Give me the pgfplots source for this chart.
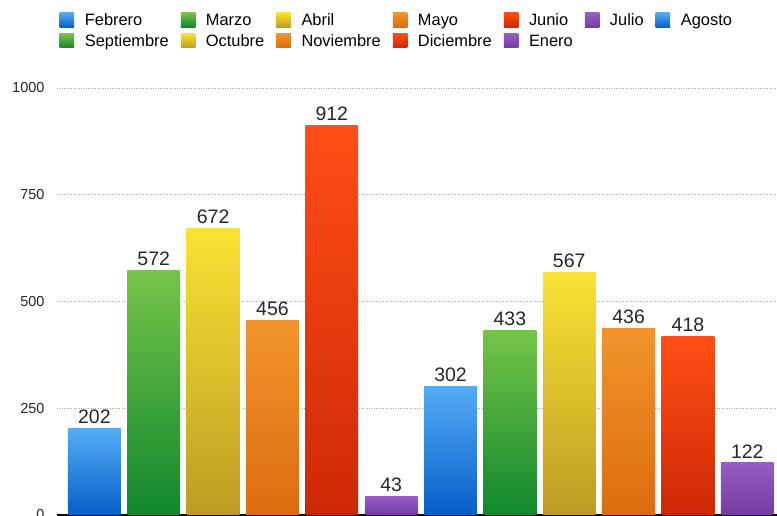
\documentclass[border=0pt]{standalone}
\usepackage{pgfplots}
\pgfplotsset{compat=1.18}
\usepackage{fontspec}
\setmainfont{Liberation Sans}
\definecolor{blueT}{RGB}{85,172,246}
\definecolor{blueB}{RGB}{5,95,200}
\definecolor{greenT}{RGB}{118,196,72}
\definecolor{greenB}{RGB}{15,135,45}
\definecolor{yellowT}{RGB}{250,226,52}
\definecolor{yellowB}{RGB}{190,155,35}
\definecolor{orangeT}{RGB}{242,148,45}
\definecolor{orangeB}{RGB}{220,108,15}
\definecolor{redT}{RGB}{255,78,22}
\definecolor{redB}{RGB}{205,40,5}
\definecolor{purpleT}{RGB}{152,92,196}
\definecolor{purpleB}{RGB}{115,60,160}
\newcommand{\mybar}[4]{\addplot[ybar, bar shift=0pt, draw=none, top color=#1, bottom color=#2] coordinates {(#3,#4)};}
\begin{document}
\begin{tikzpicture}
\begin{axis}[
  at={(57pt,1pt)}, anchor=south west,
  scale only axis, width=720pt, height=427pt,
  xmin=-0.63, xmax=11.5, ymin=0, ymax=1000,
  bar width=0.89,
  ytick={0,250,500,750,1000},
  xtick=\empty,
  axis x line*=bottom, axis y line*=left,
  x axis line style={black, line width=1.8pt, -},
  y axis line style={draw=none},
  ymajorgrids, grid style={gray!70, dotted, line width=0.8pt},
  major tick length=0pt,
  yticklabel style={font=\fontsize{14.5}{14.5}\selectfont, text=black!85, xshift=-9pt},
  /pgf/number format/assume math mode=true,
  /pgf/number format/1000 sep={},
  clip=false,
  nodes near coords,
  every node near coord/.append style={font=\fontsize{19.5}{19.5}\selectfont, text=black!85, inner sep=2pt, yshift=2.5pt},
  legend columns=7,
  legend image code/.code={\path[#1] (0pt,-5.5pt) rectangle (14.5pt,9pt);},
  legend style={at={(axis description cs:0,1)}, anchor=north west, xshift=2.5pt, yshift=76pt, draw=none, fill=none,
    font=\fontsize{16.4}{16.4}\selectfont, row sep=1.5pt, inner sep=0pt,
    nodes={text height=11.8pt, text depth=3.4pt},
    /tikz/every odd column/.append style={column sep=8.7pt},
    /tikz/every even column/.append style={column sep=10pt}},
  legend cell align=left,
]
\mybar{blueT}{blueB}{0}{202}
\mybar{greenT}{greenB}{1}{572}
\mybar{yellowT}{yellowB}{2}{672}
\mybar{orangeT}{orangeB}{3}{456}
\mybar{redT}{redB}{4}{912}
\mybar{purpleT}{purpleB}{5}{43}
\mybar{blueT}{blueB}{6}{302}
\mybar{greenT}{greenB}{7}{433}
\mybar{yellowT}{yellowB}{8}{567}
\mybar{orangeT}{orangeB}{9}{436}
\mybar{redT}{redB}{10}{418}
\mybar{purpleT}{purpleB}{11}{122}
\legend{Febrero,Marzo,Abril,Mayo,Junio,Julio,Agosto,Septiembre,Octubre,Noviembre,Diciembre,Enero}
\end{axis}
\pgfresetboundingbox
\path (0,0) rectangle (777pt,516pt);
\end{tikzpicture}
\end{document}
